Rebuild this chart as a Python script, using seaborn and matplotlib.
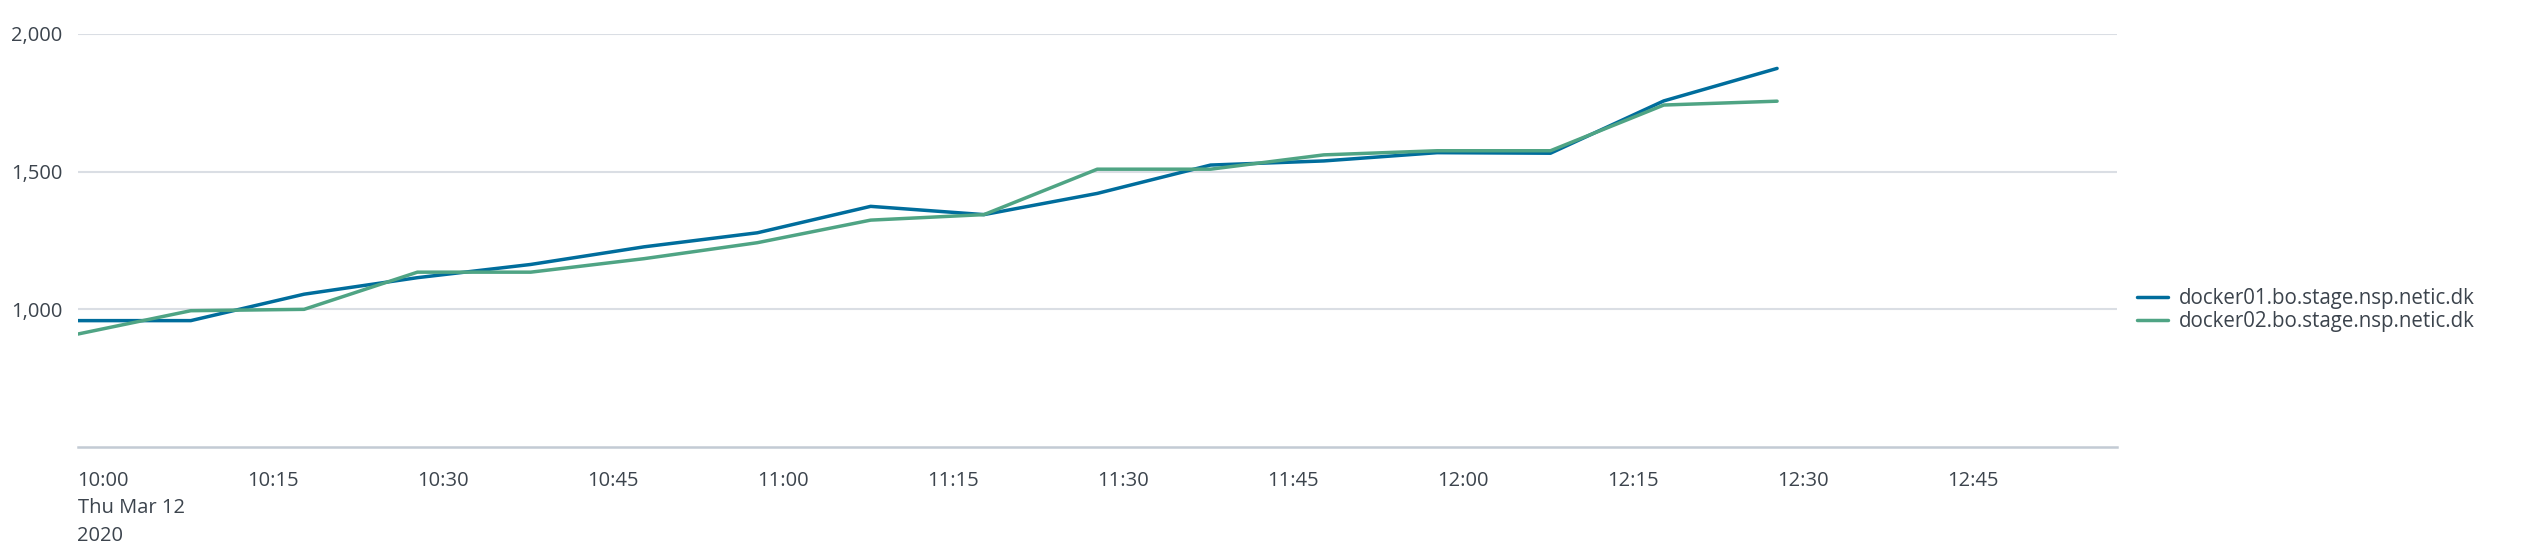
import numpy as np
import pandas as pd
import matplotlib
matplotlib.use("Agg")
import matplotlib.pyplot as plt
import matplotlib.dates as mdates
import seaborn as sns

# ---- data ----
times = pd.date_range("2020-03-12 10:00", "2020-03-12 12:30", freq="10min")
docker01 = [959, 959, 1055, 1115, 1163, 1227, 1278, 1374, 1344, 1421,
            1524, 1539, 1569, 1567, 1757, 1875]
docker02 = [910, 995, 1000, 1135, 1135, 1184, 1242, 1324, 1344, 1509,
            1509, 1561, 1576, 1576, 1742, 1756]
series_names = ["docker01.bo.stage.nsp.netic.dk", "docker02.bo.stage.nsp.netic.dk"]
series_colors = ["#006D9C", "#4FA484"]
y_ticks = [1000, 1500, 2000]
tick_times = pd.date_range("2020-03-12 10:00", "2020-03-12 13:00", freq="15min")
tick_labels = ["10:00\nThu Mar 12\n2020", "10:15", "10:30", "10:45", "11:00",
               "11:15", "11:30", "11:45", "12:00", "12:15", "12:30", "12:45", ""]

df = pd.DataFrame({
    "time": list(times) * 2,
    "value": docker01 + docker02,
    "host": [series_names[0]] * len(times) + [series_names[1]] * len(times),
})

sns.set_style("white")
plt.rcParams["font.family"] = ["Open Sans", "DejaVu Sans"]
text_color = "#3c444d"

fig = plt.figure(figsize=(25.30, 5.54), dpi=100)
ax = fig.add_axes([77.5 / 2530, 1 - 447 / 554, (2117 - 77.5) / 2530, (447 - 34) / 554])

sns.lineplot(data=df, x="time", y="value", hue="host", palette=series_colors,
             linewidth=2.5, ax=ax, legend=True)

ax.set_xlim(pd.Timestamp("2020-03-12 10:00"), pd.Timestamp("2020-03-12 13:00"))
ax.set_ylim(500, 2000)
ax.set_yticks(y_ticks)
ax.set_yticklabels([f"{v:,}" for v in y_ticks])
ax.set_xticks(list(tick_times))
ax.set_xticklabels(tick_labels, ha="left", linespacing=1.5)

ax.grid(axis="y", color="#dadee4", linewidth=1.5)
ax.grid(axis="x", visible=False)
ax.set_axisbelow(True)
for s in ["top", "right", "left"]:
    ax.spines[s].set_visible(False)
ax.spines["bottom"].set_color("#c3cbd4")
ax.spines["bottom"].set_linewidth(1.8)

ax.tick_params(axis="x", which="major", length=10, width=1.2, color="#c3cbd4",
               direction="out", pad=7, labelsize=14.5, labelcolor=text_color)
ax.tick_params(axis="y", length=0, pad=11, labelsize=14.5, labelcolor=text_color)
ax.set_xlabel("")
ax.set_ylabel("")

leg = ax.legend(loc="center left", bbox_to_anchor=(2137 / 2530, 1 - 310 / 554),
                bbox_transform=fig.transFigure, frameon=False, fontsize=14.8,
                handlelength=1.5, handletextpad=0.55, labelspacing=0.1,
                borderpad=0, borderaxespad=0)
for t in leg.get_texts():
    t.set_color(text_color)
for h in leg.get_lines():
    h.set_linewidth(2.5)

fig.savefig("out.png", dpi=100, facecolor="white")
